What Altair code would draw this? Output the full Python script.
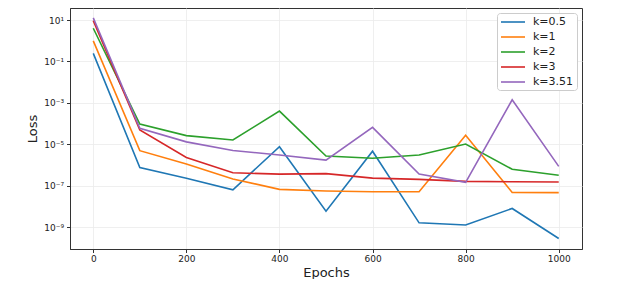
import altair as alt
import pandas as pd

epochs = [0, 100, 200, 300, 400, 500, 600, 700, 800, 900, 1000]
series_names = ["k=0.5", "k=1", "k=2", "k=3", "k=3.51"]
series_colors = ["#1f77b4", "#ff7f0e", "#2ca02c", "#d62728", "#9467bd"]

loss_k05 = [0.245, 7.4e-7, 2.3e-7, 6.3e-8, 7.6e-6, 5.8e-9, 4.6e-6, 1.6e-9, 1.26e-9, 7.9e-9, 2.8e-10]
loss_k1 = [0.98, 4.9e-6, 1.1e-6, 2.1e-7, 6.6e-8, 5.5e-8, 5.1e-8, 5.1e-8, 2.75e-5, 4.7e-8, 4.6e-8]
loss_k2 = [4.0, 9.5e-5, 2.6e-5, 1.6e-5, 4.0e-4, 2.7e-6, 2.1e-6, 3.0e-6, 1.02e-5, 6.2e-7, 3.2e-7]
loss_k3 = [9.3, 4.9e-5, 2.3e-6, 4.2e-7, 3.6e-7, 3.8e-7, 2.3e-7, 2.0e-7, 1.6e-7, 1.55e-7, 1.5e-7]
loss_k351 = [12.6, 5.9e-5, 1.3e-5, 5.0e-6, 3.0e-6, 1.7e-6, 6.5e-5, 3.6e-7, 1.45e-7, 1.4e-3, 8.5e-7]

y_ticks = [1e1, 1e-1, 1e-3, 1e-5, 1e-7, 1e-9]
x_ticks = [0, 200, 400, 600, 800, 1000]

rows = []
for name, vals in zip(series_names, [loss_k05, loss_k1, loss_k2, loss_k3, loss_k351]):
    for i, (e, v) in enumerate(zip(epochs, vals)):
        rows.append({"epoch": e, "loss": v, "series": name, "order": i})
df = pd.DataFrame(rows)

label_expr = (
    "round(log(datum.value)/LN10) == 1 ? '10\u00b9' : "
    "round(log(datum.value)/LN10) == -1 ? '10\u207b\u00b9' : "
    "round(log(datum.value)/LN10) == -3 ? '10\u207b\u00b3' : "
    "round(log(datum.value)/LN10) == -5 ? '10\u207b\u2075' : "
    "round(log(datum.value)/LN10) == -7 ? '10\u207b\u2077' : "
    "round(log(datum.value)/LN10) == -9 ? '10\u207b\u2079' : ''"
)

chart = alt.Chart(df).mark_line(strokeWidth=1.6).encode(
    x=alt.X("epoch:Q",
            scale=alt.Scale(domain=[-50, 1050], nice=False, zero=False),
            axis=alt.Axis(values=x_ticks, title="Epochs", format="d",
                          labelFontSize=9, titleFontSize=13, titleFontWeight="normal",
                          tickSize=3.5, labelPadding=2, titlePadding=3,
                          grid=True)),
    y=alt.Y("loss:Q",
            scale=alt.Scale(type="log", domain=[10 ** -10.06, 10 ** 1.58], nice=False, zero=False),
            axis=alt.Axis(values=y_ticks, labelExpr=label_expr, title="Loss",
                          labelFontSize=9, titleFontSize=13, titleFontWeight="normal",
                          tickSize=3.5, labelPadding=3, titlePadding=4,
                          grid=True)),
    color=alt.Color("series:N",
                    scale=alt.Scale(domain=series_names, range=series_colors),
                    legend=alt.Legend(title=None, orient="none", legendX=427, legendY=5,
                                      fillColor="white", strokeColor="#cccccc",
                                      cornerRadius=3, padding=3,
                                      symbolType="M-2.4,0L2.4,0", symbolSize=100,
                                      symbolStrokeWidth=1.6, symbolOffset=7,
                                      labelOffset=14, labelFontSize=11,
                                      rowPadding=4)),
    order="order:Q",
    detail="series:N",
).properties(
    width=512, height=241,
    autosize=alt.AutoSizeParams(type="none"),
    padding={"left": 62, "top": 0, "right": 30, "bottom": 30},
).configure(
    font="DejaVu Sans",
).configure_axis(
    gridColor="#ebebeb", gridWidth=0.8,
    domainColor="#333333", tickColor="#333333",
    labelColor="#222222", titleColor="#222222",
    labelFont="DejaVu Sans", titleFont="DejaVu Sans",
).configure_legend(
    labelFont="DejaVu Sans", labelColor="#222222",
).configure_view(
    stroke="#333333", strokeWidth=1,
)

chart.save("out.html", embed_options={"renderer": "svg", "actions": False})
